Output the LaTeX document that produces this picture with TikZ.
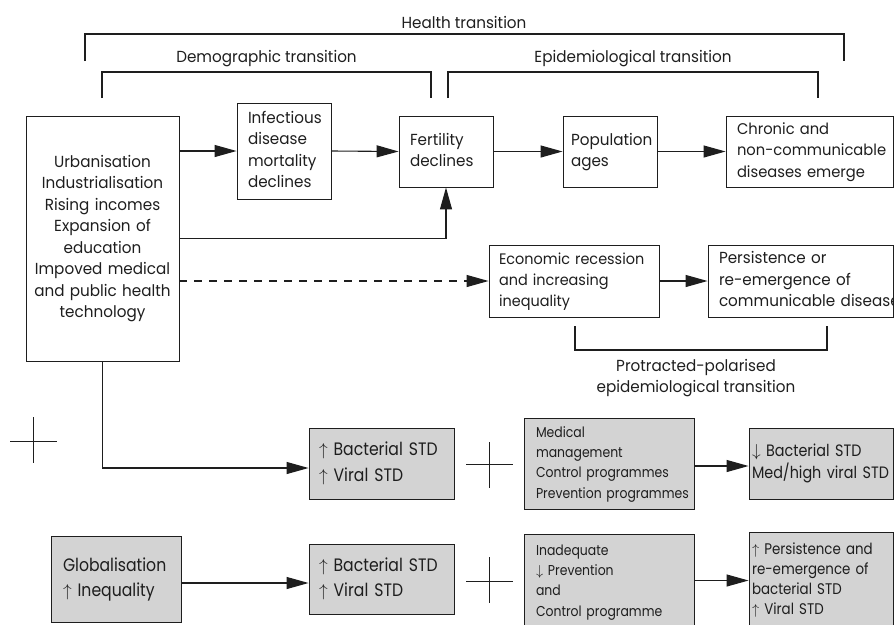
\documentclass[tikz,border=0pt]{standalone}
\usepackage{fontspec}
\setmainfont{Poppins}[FakeStretch=0.95]
\newfontfamily\condfont{Poppins}[FakeStretch=0.87]
\usetikzlibrary{arrows.meta}
\definecolor{boxgray}{RGB}{211,211,211}
\definecolor{ink}{RGB}{30,30,30}
\newcommand{\lns}[1]{\begin{tabular}{@{}l@{}}#1\end{tabular}}
\begin{document}
\begin{tikzpicture}[x=1pt,y=-1pt,
  every node/.style={text=ink},
  wbox/.style={draw=ink, line width=0.9pt, inner ysep=0pt, align=left,
    font=\fontsize{16}{21.5}\selectfont},
  gbox/.style={wbox, fill=boxgray},
  gbig/.style={gbox, font=\condfont\fontsize{18}{25.5}\selectfont},
  gmid/.style={gbox, font=\condfont\fontsize{16.5}{20.5}\selectfont},
  gper/.style={gbox, font=\condfont\fontsize{15.4}{20}\selectfont},
  gsml/.style={gbox, font=\condfont\fontsize{14.3}{20.3}\selectfont},
  lbl/.style={font=\fontsize{16}{21}\selectfont, inner sep=0pt, align=center},
  conn/.style={draw=ink, line width=1.1pt, -{Triangle[length=22pt,width=12pt]}},
  brk/.style={draw=ink, line width=1.1pt},
  crossln/.style={draw=ink, line width=0.8pt}
]
\useasboundingbox (0,0) rectangle (894,624);

% top white boxes
\node[wbox, align=center, minimum width=153pt, minimum height=245pt, text width=145pt, inner xsep=4pt]
  (src) at (102.5,238.5) {Urbanisation\\Industrialisation\\Rising incomes\\Expansion of\\education\\Impoved medical\\and public health\\technology};
\node[wbox, minimum width=94pt, minimum height=96pt, text width=72pt, inner xsep=11pt]
  (inf) at (284,151) {\lns{Infectious\\disease\\mortality\\declines}};
\node[wbox, minimum width=94pt, minimum height=71pt, text width=72pt, inner xsep=11pt]
  (fert) at (446,151.5) {\lns{Fertility\\declines}};
\node[wbox, minimum width=94pt, minimum height=71pt, text width=78pt, inner xsep=8pt]
  (pop) at (610,151.5) {\lns{Population\\ages}};
\node[wbox, font=\fontsize{15.5}{21.5}\selectfont, minimum width=167pt, minimum height=71pt, text width=145pt, inner xsep=11pt]
  (chr) at (809.5,151.5) {\lns{Chronic and\\non-communicable\\diseases emerge}};
\node[wbox, font=\fontsize{15.2}{21}\selectfont, minimum width=170pt, minimum height=72pt, text width=150pt, inner xsep=10pt]
  (eco) at (574,281) {\lns{Economic recession\\and increasing\\inequality}};
\node[wbox, minimum width=185pt, minimum height=72pt, text width=163pt, inner xsep=11pt]
  (per) at (800.5,281) {\lns{Persistence or\\re-emergence of\\communicable diseases}};

% grey boxes
\node[gbig, minimum width=145pt, minimum height=71pt, text width=125pt, inner xsep=10pt]
  (b1) at (381.5,463.5) {\lns{$\uparrow$ Bacterial STD\\$\uparrow$ Viral STD}};
\node[gsml, minimum width=170pt, minimum height=91pt, text width=146pt, inner xsep=12pt]
  (med) at (609,463.5) {\lns{Medical\\management\\Control programmes\\Prevention programmes}};
\node[gmid, minimum width=144pt, minimum height=71pt, text width=138pt, inner xsep=3pt]
  (dec) at (821,463.5) {\lns{$\downarrow$ Bacterial STD\\Med/high viral STD}};
\node[gbig, minimum width=130pt, minimum height=86pt, text width=106pt, inner xsep=12pt]
  (glob) at (116,579) {\lns{Globalisation\\$\uparrow$ Inequality}};
\node[gbig, minimum width=145pt, minimum height=70pt, text width=125pt, inner xsep=10pt]
  (b2) at (381.5,579) {\lns{$\uparrow$ Bacterial STD\\$\uparrow$ Viral STD}};
\node[gsml, minimum width=170pt, minimum height=95pt, text width=146pt, inner xsep=12pt]
  (inad) at (609,581.5) {\lns{Inadequate\\$\downarrow$ Prevention\\and\\Control programme}};
\node[gper, minimum width=144pt, minimum height=97pt, text width=138pt, inner xsep=3pt]
  (pers) at (821,580.5) {\lns{$\uparrow$ Persistence and\\re-emergence of\\bacterial STD\\$\uparrow$ Viral STD}};

% brackets and their labels
\draw[brk] (85,61) |- (844,34) -- (844,61);
\node[lbl] (lhealth) at (464,22) {Health transition};
\draw[brk] (102,98) |- (431,72) -- (431,98);
\node[lbl] (ldemo) at (266.5,58.5) {Demographic transition};
\draw[brk] (448,98) |- (818,72) -- (818,98);
\node[lbl] (lepi) at (633,58.5) {Epidemiological transition};
\draw[brk] (575,326) |- (827,350) -- (827,326);
\node[lbl] (lprot) at (696,378.5) {Protracted-polarised\\epidemiological transition};

% connectors
\draw[conn] (src.east |- inf.west) -- (inf.west);
\draw[conn] (inf.east) -- (fert.west);
\draw[conn] (fert.east) -- (pop.west);
\draw[conn] (pop.east) -- (chr.west);
\draw[conn] (src.east) -| (fert.south);
\draw[conn, dash pattern=on 8pt off 7pt] (src.east |- eco.west) -- (eco.west);
\draw[conn] (eco.east) -- (per.west);
\draw[conn] (src.south) |- ([yshift=-4.5pt]b1.west);
\draw[conn] ([yshift=-2.5pt]med.east) -- ([yshift=-2.5pt]dec.west);
\draw[conn] ([yshift=-4pt]glob.east) -- ([yshift=-4pt]b2.west);
\draw[conn] (inad.east |- pers.west) -- (pers.west);

% plus signs
\draw[crossln] (10,441) -- (57,441) (33,417) -- (33,463);
\draw[crossln] (466,464) -- (513,464) (489,442) -- (489,488);
\draw[crossln] (466,581) -- (513,581) (489,557) -- (489,603);
\end{tikzpicture}
\end{document}
